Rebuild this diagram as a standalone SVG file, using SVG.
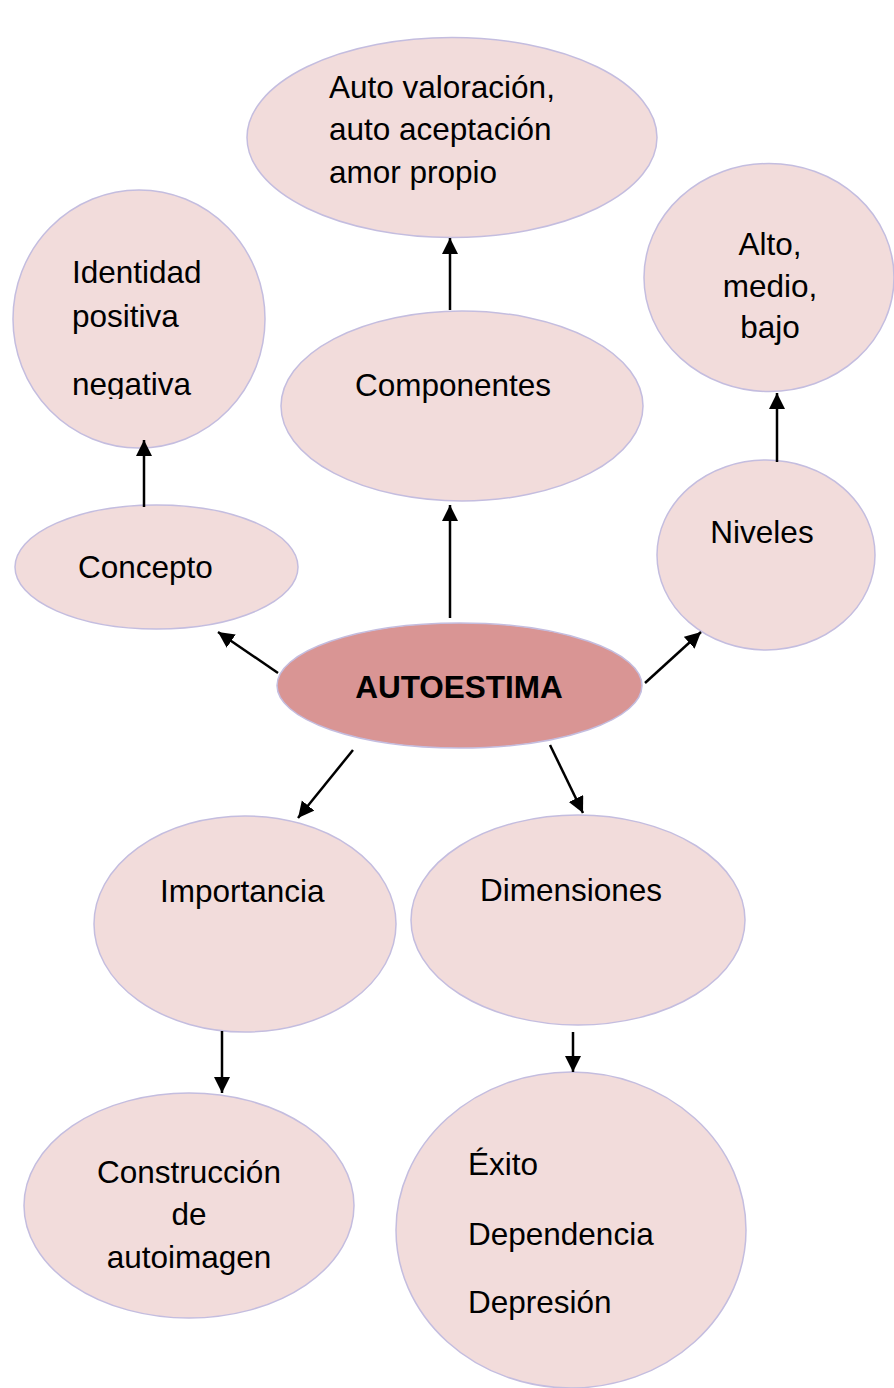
<svg xmlns="http://www.w3.org/2000/svg" width="894" height="1388" viewBox="0 0 894 1388">
<style>
.n{fill:#f2dcdb;stroke:#c4bddf;stroke-width:1.5}
.c{fill:#d99594;stroke:#c4bddf;stroke-width:1.5}
.t{font-family:"Liberation Sans",Arial,sans-serif;font-size:31.5px;fill:#000}
.m{text-anchor:middle}
.b{font-weight:bold}
.a{stroke:#000;stroke-width:2.5;fill:none;marker-end:url(#ah)}
</style>
<defs>
<marker id="ah" markerUnits="userSpaceOnUse" markerWidth="17" markerHeight="17" refX="16" refY="8" orient="auto" viewBox="0 0 17 17">
<path d="M0,0 L16,8 L0,16 z" fill="#000"/>
</marker>
<clipPath id="negclip"><rect x="0" y="0" width="300" height="399"/></clipPath>
</defs>
<rect width="894" height="1388" fill="#fff"/>
<g id="autovaloracion">
<ellipse class="n" cx="452" cy="137.5" rx="205" ry="100"/>
<text class="t" x="329" y="98">Auto valoración,</text>
<text class="t" x="329" y="140">auto aceptación</text>
<text class="t" x="329" y="183">amor propio</text>
</g>
<g id="identidad">
<ellipse class="n" cx="139" cy="319" rx="126" ry="129"/>
<text class="t" x="72" y="283">Identidad</text>
<text class="t" x="72" y="327">positiva</text>
<text class="t" x="72" y="395" clip-path="url(#negclip)">negativa</text>
</g>
<g id="niveles-valores">
<ellipse class="n" cx="769" cy="277.5" rx="125" ry="114"/>
<text class="t m" x="770" y="255">Alto,</text>
<text class="t m" x="770" y="297">medio,</text>
<text class="t m" x="770" y="338">bajo</text>
</g>
<g id="componentes">
<ellipse class="n" cx="462" cy="406" rx="181" ry="95"/>
<text class="t" x="355" y="396">Componentes</text>
</g>
<g id="concepto">
<ellipse class="n" cx="156.5" cy="567" rx="141.5" ry="62"/>
<text class="t" x="78" y="578">Concepto</text>
</g>
<g id="niveles">
<ellipse class="n" cx="766" cy="555" rx="109" ry="95"/>
<text class="t m" x="762" y="543">Niveles</text>
</g>
<g id="autoestima">
<ellipse class="c" cx="459.5" cy="685.5" rx="182.5" ry="62.5"/>
<text class="t m b" x="459" y="698">AUTOESTIMA</text>
</g>
<g id="importancia">
<ellipse class="n" cx="245" cy="924" rx="151" ry="108"/>
<text class="t" x="160" y="902">Importancia</text>
</g>
<g id="dimensiones">
<ellipse class="n" cx="578" cy="920" rx="167" ry="105"/>
<text class="t" x="480" y="901">Dimensiones</text>
</g>
<g id="construccion">
<ellipse class="n" cx="189" cy="1205.5" rx="165" ry="112.5"/>
<text class="t m" x="189" y="1183">Construcción</text>
<text class="t m" x="189" y="1225">de</text>
<text class="t m" x="189" y="1268">autoimagen</text>
</g>
<g id="exito">
<ellipse class="n" cx="571" cy="1230" rx="175" ry="158"/>
<text class="t" x="468" y="1175">Éxito</text>
<text class="t" x="468" y="1245">Dependencia</text>
<text class="t" x="468" y="1313">Depresión</text>
</g>
<g id="connectors">
<line class="a" x1="450" y1="310" x2="450" y2="238"/>
<line class="a" x1="144" y1="507" x2="144" y2="440"/>
<line class="a" x1="777" y1="462" x2="777" y2="393"/>
<line class="a" x1="450" y1="618" x2="450" y2="505"/>
<line class="a" x1="278" y1="673" x2="218" y2="632"/>
<line class="a" x1="645" y1="683" x2="701" y2="632"/>
<line class="a" x1="353" y1="750" x2="298" y2="818"/>
<line class="a" x1="550" y1="745" x2="583" y2="813"/>
<line class="a" x1="222" y1="1031" x2="222" y2="1093"/>
<line class="a" x1="573" y1="1032" x2="573" y2="1072"/>
</g>
</svg>
